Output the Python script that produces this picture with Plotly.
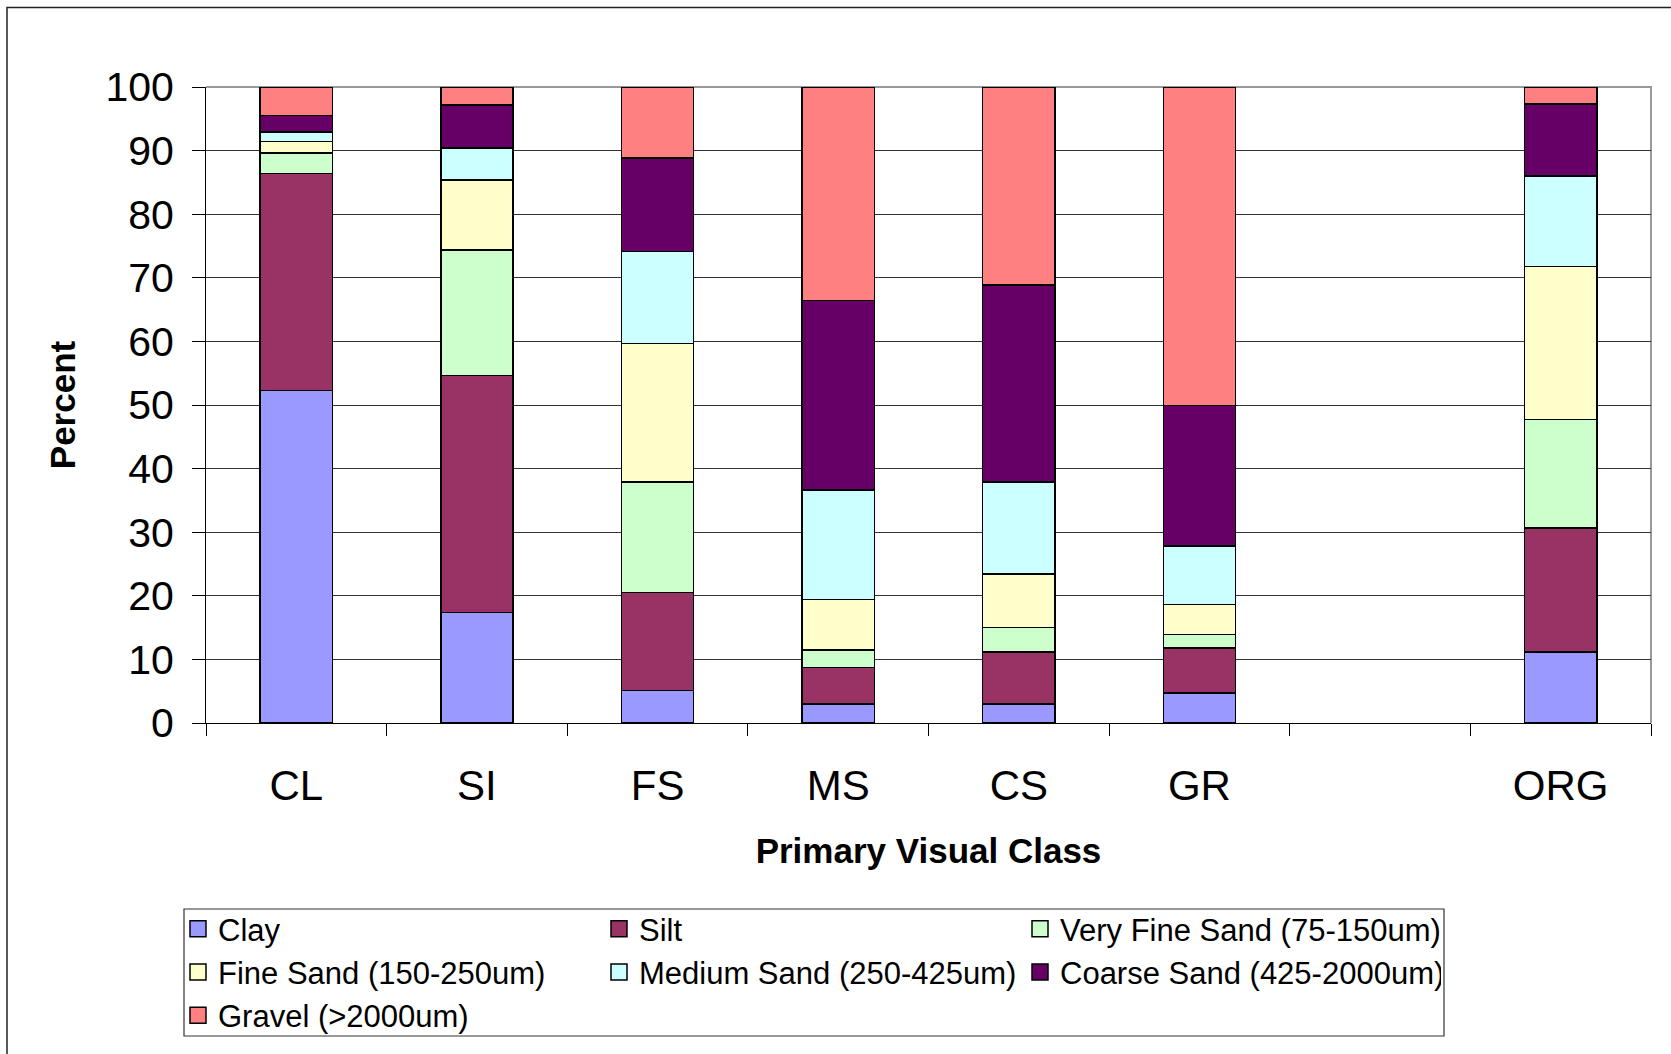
import plotly.graph_objects as go

categories = ["CL", "SI", "FS", "MS", "CS", "GR", " ", "ORG"]
series_names = ["Clay", "Silt", "Very Fine Sand (75-150um)", "Fine Sand (150-250um)",
                "Medium Sand (250-425um)", "Coarse Sand (425-2000um)", "Gravel (>2000um)"]
clay =        [52.3, 17.4,  5.1,  3.0,  3.0,  4.7, None, 11.2]
silt =        [34.1, 37.2, 15.4,  5.7,  8.2,  7.1, None, 19.5]
very_fine =   [ 3.2, 19.8, 17.4,  2.8,  3.8,  2.1, None, 17.0]
fine =        [ 1.8, 11.0, 21.8,  7.9,  8.4,  4.7, None, 24.1]
medium =      [ 1.5,  5.0, 14.4, 17.2, 14.5,  9.2, None, 14.2]
coarse =      [ 2.6,  6.8, 14.7, 29.8, 31.0, 22.1, None, 11.3]
gravel =      [ 4.5,  2.8, 11.2, 33.6, 31.1, 50.1, None,  2.7]
y_ticks = [0, 10, 20, 30, 40, 50, 60, 70, 80, 90, 100]

series_values = [clay, silt, very_fine, fine, medium, coarse, gravel]
colors = ["#9999FF", "#993366", "#CCFFCC", "#FFFFCC", "#CCFFFF", "#660066", "#FF8080"]

FONT = "Liberation Sans, Arial, sans-serif"

fig = go.Figure()
for i, (name, vals, col) in enumerate(zip(series_names, series_values, colors)):
    fig.add_trace(go.Bar(
        x=categories, y=vals, name=name, legendgroup=f"g{i}", showlegend=False,
        marker=dict(color=col, line=dict(color="black", width=1.5)),
    ))
# legend entries with larger square swatches (same series, no data drawn)
for i, (name, col) in enumerate(zip(series_names, colors)):
    fig.add_trace(go.Scatter(
        x=[None], y=[None], mode="markers", name=name, legendgroup=f"g{i}",
        marker=dict(symbol="square", size=16, color=col, line=dict(color="black", width=1.5)),
        hoverinfo="skip",
    ))

L, R, T, B = 206, 20, 87, 331
W, H = 1671, 1054
pw, ph = W - L - R, H - T - B

def px_x(x):
    return (x - L) / pw

def px_y(y):
    return (H - B - y) / ph

fig.update_layout(
    width=W, height=H,
    margin=dict(l=L, r=R, t=T, b=B, pad=0, autoexpand=False),
    barmode="stack",
    bargap=0.6,
    paper_bgcolor="white",
    plot_bgcolor="white",
    font=dict(family=FONT, color="black"),
    xaxis=dict(
        categoryorder="array", categoryarray=categories,
        range=[-0.5, 7.5],
        tickson="boundaries",
        ticks="outside", ticklen=12, tickcolor="black", tickwidth=1,
        showline=True, linecolor="black", linewidth=1,
        showgrid=False,
        tickfont=dict(size=42, family=FONT),
        ticklabelstandoff=26,
        title=dict(text="<b>Primary Visual Class</b>", font=dict(size=35, family=FONT), standoff=30),
    ),
    yaxis=dict(
        range=[0, 100],
        tickvals=y_ticks,
        ticks="outside", ticklen=13, tickcolor="black", tickwidth=1,
        showline=True, linecolor="black", linewidth=1,
        showgrid=True, gridcolor="#333333", gridwidth=1,
        zeroline=False,
        tickfont=dict(size=41, family=FONT),
        ticklabelstandoff=10,
        title=dict(text="<b>Percent</b>", font=dict(size=35, family=FONT), standoff=19),
    ),
    legend=dict(
        orientation="h",
        x=px_x(178), y=px_y(902), xanchor="left", yanchor="top",
        bgcolor="rgba(0,0,0,0)", borderwidth=0,
        font=dict(size=31, family=FONT),
        entrywidth=376, entrywidthmode="pixels",
        traceorder="normal",
        itemwidth=30,
        itemsizing="trace",
    ),
    showlegend=True,
    shapes=[
        # outer chart frame (left and top edges)
        dict(type="path", xref="paper", yref="paper",
             path=f"M {px_x(7)},{px_y(1100)} L {px_x(7)},{px_y(7.5)} L {px_x(1700)},{px_y(7.5)}",
             line=dict(color="#222222", width=1.5), layer="below"),
        # plot area frame (top and right, grey)
        dict(type="path", xref="paper", yref="paper",
             path="M 0,1 L 1,1 L 1,0",
             line=dict(color="#999999", width=2), layer="below"),
        # legend box
        dict(type="rect", xref="paper", yref="paper",
             x0=px_x(184), x1=px_x(1444), y0=px_y(1036), y1=px_y(909),
             line=dict(color="#333333", width=1.2), layer="below"),
    ],
)

fig.write_html("out.html", config={"displayModeBar": False},
               post_script="document.body.style.margin='0';")
